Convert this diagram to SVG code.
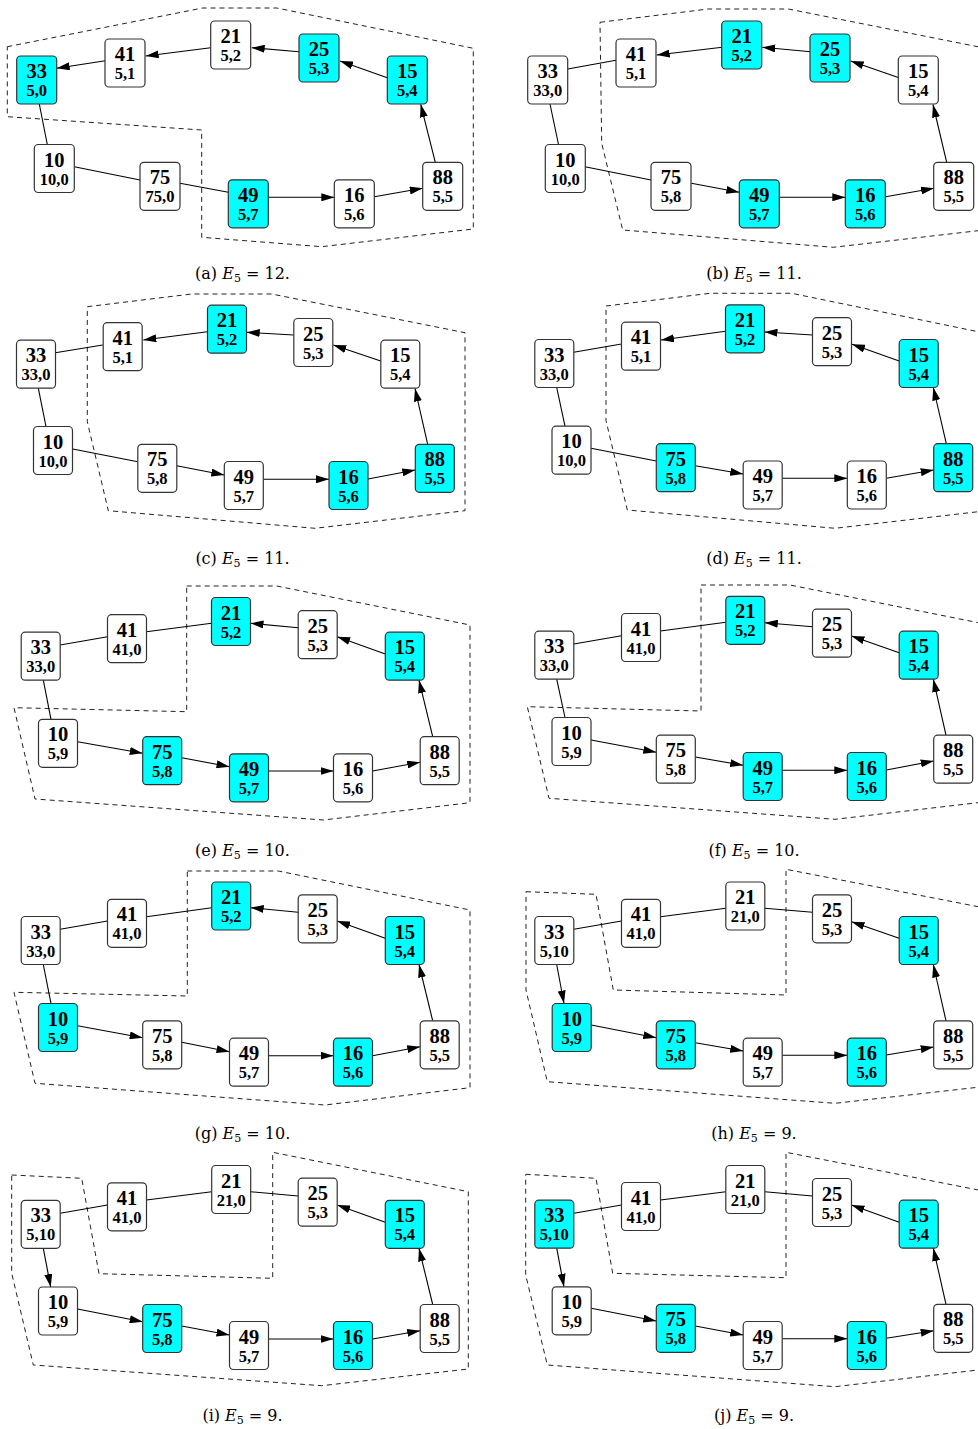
<svg xmlns="http://www.w3.org/2000/svg" width="978" height="1429" viewBox="0 0 978 1429">
<style>
.bg{fill:#fff}
.n use{fill:#fff;stroke:#333;stroke-width:1.2}
.n.c use{fill:#00ffff}
.n text{font-family:"Liberation Serif","Times New Roman",serif;font-weight:bold;text-anchor:middle;fill:#000}
.n .t{font-size:20.5px}
.n .s{font-size:16.5px}
.reg{fill:none;stroke:#222;stroke-width:1;stroke-dasharray:5,4}
.e{stroke:#000;stroke-width:1.1;fill:none}
.e.a{marker-end:url(#ah)}
.cap{font-family:"DejaVu Serif",serif;font-size:16px;text-anchor:middle;fill:#000}
</style>
<defs>
<marker id="ah" viewBox="0 0 13 8" refX="13" refY="4" markerWidth="13" markerHeight="8" markerUnits="userSpaceOnUse" orient="auto"><path d="M0,0 L13,4 L0,8 z" fill="#000"/></marker>
<rect id="bw" x="-20" y="-24" width="40" height="48" rx="4"/>
<rect id="bn" x="-19.5" y="-24" width="39" height="48" rx="4"/>
</defs>
<rect class="bg" width="978" height="1429"/>

<g id="regions">
<polygon class="reg" points="7.3,46.7 202.7,8 276.7,8 473.3,48.3 473.3,229 321.7,246.7 201.7,237.3 201.7,130 7.3,116.7"/>
<polygon class="reg" points="600,22.3 708.3,9 788.3,9 984.3,48 984.3,230 833.3,247.3 622.7,230 601.7,143.3"/>
<polygon class="reg" points="87.3,306.7 191.7,294 271.7,294 465,332.7 465,510.7 315,528.3 108.3,510.7 87.3,421.7"/>
<polygon class="reg" points="606,306 710,293.3 791.7,293.3 983.4,332.8 983.4,511.1 835,528.3 627.3,510 606,420.7"/>
<polygon class="reg" points="186.7,586 276.7,586 470,625 470,802.7 323.3,820 35,799 14,707.7 186.7,711.7"/>
<polygon class="reg" points="701,585 790,585 983.9,623.8 983.9,802 835,819.3 549,798.3 527.3,706.7 701,711"/>
<polygon class="reg" points="187.3,871 278.3,871 470,910 470,1087.7 325,1105 35,1083.3 14,992.3 187.3,996"/>
<polygon class="reg" points="526,891.7 596,894.3 613.3,990 786,995 786,869.3 984,907.8 984,1086.6 835,1103.3 547.3,1081.7 526,990"/>
<polygon class="reg" points="11.7,1175 81.7,1178.3 99,1273.7 272.7,1278.3 272.7,1152.3 468.3,1191.7 468.3,1369 321.7,1385.7 33.3,1365 11.7,1273.3"/>
<polygon class="reg" points="525.7,1174.3 596,1178.3 612.7,1273.3 786,1277.7 786,1152.3 984,1191.1 984,1369.3 835,1386.7 547.3,1365 525.7,1275"/>
</g>

<g id="connectors">
<g id="edges-a">
<line class="e a" x1="105.3" y1="60.7" x2="56.7" y2="68.3"/>
<line class="e a" x1="210.7" y1="47.7" x2="145.7" y2="56"/>
<line class="e a" x1="299" y1="51.7" x2="251.7" y2="47.7"/>
<line class="e a" x1="387.3" y1="77.7" x2="340" y2="61"/>
<line class="e a" x1="435.3" y1="162.3" x2="420.7" y2="104.3"/>
<line class="e a" x1="374.3" y1="196.7" x2="422.7" y2="188.3"/>
<line class="e a" x1="268.3" y1="197.3" x2="334.3" y2="197.3"/>
<line class="e" x1="180" y1="183.3" x2="228.3" y2="192.3"/>
<line class="e" x1="74.3" y1="166.7" x2="140" y2="180"/>
<line class="e" x1="39.3" y1="104" x2="47.3" y2="144.5"/>
</g>
<g id="edges-b">
<line class="e" x1="567.7" y1="69" x2="616" y2="60.3"/>
<line class="e a" x1="722.3" y1="47.3" x2="656.7" y2="55"/>
<line class="e a" x1="810.7" y1="51.7" x2="762.3" y2="47.3"/>
<line class="e a" x1="899" y1="77.7" x2="850.7" y2="61"/>
<line class="e a" x1="946.7" y1="162.3" x2="933" y2="104.5"/>
<line class="e a" x1="885.7" y1="196.7" x2="934" y2="188.3"/>
<line class="e a" x1="779.3" y1="197.3" x2="845.3" y2="197.3"/>
<line class="e a" x1="691.3" y1="183.3" x2="739.3" y2="192.3"/>
<line class="e" x1="585" y1="166.7" x2="651" y2="180"/>
<line class="e" x1="550" y1="104" x2="558.5" y2="144.5"/>
</g>
<g id="edges-c">
<line class="e" x1="55.3" y1="352.7" x2="102.7" y2="345"/>
<line class="e a" x1="207.3" y1="331.7" x2="143.3" y2="340"/>
<line class="e a" x1="293.7" y1="335" x2="246.7" y2="332.3"/>
<line class="e a" x1="380.7" y1="361" x2="333.3" y2="345"/>
<line class="e a" x1="427.7" y1="444.3" x2="415" y2="388.5"/>
<line class="e a" x1="368" y1="479" x2="415.3" y2="470"/>
<line class="e a" x1="263.3" y1="479.3" x2="329" y2="479.3"/>
<line class="e a" x1="176.7" y1="465.7" x2="224.3" y2="475"/>
<line class="e" x1="72.7" y1="449" x2="137.8" y2="461.7"/>
<line class="e" x1="38.3" y1="388.2" x2="46" y2="426.5"/>
</g>
<g id="edges-d">
<line class="e" x1="573.7" y1="352.3" x2="621.5" y2="344"/>
<line class="e a" x1="725.5" y1="331.3" x2="661" y2="340"/>
<line class="e a" x1="812.5" y1="335" x2="764.5" y2="332"/>
<line class="e a" x1="899.2" y1="361" x2="852" y2="344.3"/>
<line class="e a" x1="946.3" y1="443.7" x2="933.3" y2="387.5"/>
<line class="e a" x1="886.3" y1="478.3" x2="933.7" y2="470"/>
<line class="e a" x1="782.2" y1="478.3" x2="847.3" y2="478.3"/>
<line class="e a" x1="695.3" y1="465.7" x2="743.2" y2="474"/>
<line class="e" x1="591" y1="448.3" x2="656.3" y2="461"/>
<line class="e" x1="556.7" y1="387.5" x2="565" y2="426.2"/>
</g>
<g id="edges-e">
<line class="e" x1="60.2" y1="645" x2="107.5" y2="636.7"/>
<line class="e" x1="146.5" y1="631.7" x2="211.5" y2="623.3"/>
<line class="e a" x1="298.2" y1="627.7" x2="250.5" y2="623.3"/>
<line class="e a" x1="385.3" y1="654" x2="337.2" y2="636.7"/>
<line class="e a" x1="432.7" y1="736.7" x2="419" y2="680.2"/>
<line class="e a" x1="372.5" y1="771" x2="420.2" y2="762.3"/>
<line class="e a" x1="268.5" y1="771" x2="333.5" y2="771"/>
<line class="e a" x1="181.7" y1="757.7" x2="229.5" y2="766.7"/>
<line class="e a" x1="77.5" y1="741.7" x2="142.7" y2="753.3"/>
<line class="e" x1="43.3" y1="680.2" x2="51" y2="719.3"/>
</g>
<g id="edges-f">
<line class="e" x1="573.8" y1="644" x2="621.5" y2="635.7"/>
<line class="e" x1="660.5" y1="631" x2="725.8" y2="622.3"/>
<line class="e a" x1="812.5" y1="626.7" x2="764.8" y2="622.7"/>
<line class="e a" x1="899.2" y1="652.7" x2="851.5" y2="636"/>
<line class="e a" x1="946" y1="735.2" x2="933.3" y2="679.2"/>
<line class="e a" x1="886.3" y1="770" x2="933.7" y2="761"/>
<line class="e a" x1="782.2" y1="770.3" x2="847.3" y2="770.3"/>
<line class="e a" x1="695.3" y1="757" x2="743.2" y2="765.3"/>
<line class="e a" x1="591" y1="740" x2="656.3" y2="752.3"/>
<line class="e" x1="556.7" y1="679.2" x2="565" y2="717.5"/>
</g>
<g id="edges-g">
<line class="e" x1="60.2" y1="929.3" x2="107.5" y2="921"/>
<line class="e" x1="146.5" y1="916.7" x2="211.7" y2="907.7"/>
<line class="e a" x1="298.2" y1="912.3" x2="250.7" y2="907.7"/>
<line class="e a" x1="385.3" y1="938.3" x2="337.2" y2="921"/>
<line class="e a" x1="432.7" y1="1020.8" x2="419" y2="964.5"/>
<line class="e a" x1="372.5" y1="1055.7" x2="420.2" y2="1046.7"/>
<line class="e a" x1="268.5" y1="1055.7" x2="333.5" y2="1055.7"/>
<line class="e a" x1="181.7" y1="1042.3" x2="229.5" y2="1051.7"/>
<line class="e a" x1="77.5" y1="1025.7" x2="142.7" y2="1037.7"/>
<line class="e" x1="43.3" y1="964.5" x2="51" y2="1003.5"/>
</g>
<g id="edges-h">
<line class="e" x1="573.8" y1="929.3" x2="621.5" y2="921"/>
<line class="e" x1="660.5" y1="916.7" x2="725.8" y2="908.3"/>
<line class="e" x1="764.8" y1="908.3" x2="812.5" y2="912.3"/>
<line class="e a" x1="899.2" y1="938.3" x2="851.5" y2="921.7"/>
<line class="e a" x1="946" y1="1020.8" x2="933.3" y2="964.5"/>
<line class="e a" x1="886.3" y1="1055" x2="933.7" y2="1047"/>
<line class="e a" x1="782.2" y1="1055.3" x2="847.3" y2="1055.3"/>
<line class="e a" x1="695.3" y1="1042.7" x2="743.2" y2="1051"/>
<line class="e a" x1="591.2" y1="1025" x2="656.3" y2="1037.7"/>
<line class="e a" x1="556.7" y1="964.5" x2="564" y2="1003.5"/>
</g>
<g id="edges-i">
<line class="e" x1="60.2" y1="1213.3" x2="107.5" y2="1205"/>
<line class="e" x1="146.5" y1="1200" x2="211.7" y2="1191.7"/>
<line class="e" x1="250.7" y1="1191.7" x2="298.2" y2="1196"/>
<line class="e a" x1="385.3" y1="1222.3" x2="337.2" y2="1205"/>
<line class="e a" x1="432.7" y1="1304.5" x2="419" y2="1248.3"/>
<line class="e a" x1="372.5" y1="1339" x2="420.2" y2="1330.7"/>
<line class="e a" x1="268.5" y1="1339" x2="333.5" y2="1339"/>
<line class="e a" x1="181.7" y1="1326" x2="229.5" y2="1335"/>
<line class="e a" x1="77.5" y1="1309" x2="142.7" y2="1321.7"/>
<line class="e a" x1="43.3" y1="1248.3" x2="50.7" y2="1287"/>
</g>
<g id="edges-j">
<line class="e" x1="573.8" y1="1213.3" x2="621.5" y2="1205"/>
<line class="e" x1="660.5" y1="1200" x2="725.8" y2="1191.7"/>
<line class="e" x1="764.8" y1="1191.7" x2="812.5" y2="1196"/>
<line class="e a" x1="899.2" y1="1222.3" x2="851.5" y2="1205"/>
<line class="e a" x1="946" y1="1304.3" x2="933.3" y2="1248.2"/>
<line class="e a" x1="886.3" y1="1338.3" x2="933.7" y2="1330.7"/>
<line class="e a" x1="782.2" y1="1338.7" x2="847.3" y2="1338.7"/>
<line class="e a" x1="695.3" y1="1326" x2="743.2" y2="1335"/>
<line class="e a" x1="591.2" y1="1308.3" x2="656.3" y2="1321"/>
<line class="e a" x1="556.7" y1="1248.2" x2="564" y2="1286.8"/>
</g>
</g>

<g id="panel-a">
<g id="a33" class="n c" transform="translate(36.7,80)"><use href="#bw"/><text class="t" y="-2">33</text><text class="s" y="16">5,0</text></g>
<g id="a41" class="n" transform="translate(125,63)"><use href="#bw"/><text class="t" y="-2">41</text><text class="s" y="16">5,1</text></g>
<g id="a21" class="n" transform="translate(230.7,45)"><use href="#bw"/><text class="t" y="-2">21</text><text class="s" y="16">5,2</text></g>
<g id="a25" class="n c" transform="translate(319,58)"><use href="#bw"/><text class="t" y="-2">25</text><text class="s" y="16">5,3</text></g>
<g id="a15" class="n c" transform="translate(407.3,80)"><use href="#bw"/><text class="t" y="-2">15</text><text class="s" y="16">5,4</text></g>
<g id="a10" class="n" transform="translate(54.3,168.5)"><use href="#bw"/><text class="t" y="-2">10</text><text class="s" y="16">10,0</text></g>
<g id="a75" class="n" transform="translate(160,186.3)"><use href="#bw"/><text class="t" y="-2">75</text><text class="s" y="16">75,0</text></g>
<g id="a49" class="n c" transform="translate(248.3,203.8)"><use href="#bw"/><text class="t" y="-2">49</text><text class="s" y="16">5,7</text></g>
<g id="a16" class="n" transform="translate(354.3,203.8)"><use href="#bw"/><text class="t" y="-2">16</text><text class="s" y="16">5,6</text></g>
<g id="a88" class="n" transform="translate(442.7,186.3)"><use href="#bw"/><text class="t" y="-2">88</text><text class="s" y="16">5,5</text></g>
<text class="cap" x="242.5" y="279">(a) <tspan font-style="italic">E</tspan><tspan font-size="11" dy="3">5</tspan><tspan dy="-3"> = 12.</tspan></text>
</g>

<g id="panel-b">
<g id="b33" class="n" transform="translate(547.7,80)"><use href="#bw"/><text class="t" y="-2">33</text><text class="s" y="16">33,0</text></g>
<g id="b41" class="n" transform="translate(636,63)"><use href="#bw"/><text class="t" y="-2">41</text><text class="s" y="16">5,1</text></g>
<g id="b21" class="n c" transform="translate(741.7,45)"><use href="#bw"/><text class="t" y="-2">21</text><text class="s" y="16">5,2</text></g>
<g id="b25" class="n c" transform="translate(830,58)"><use href="#bw"/><text class="t" y="-2">25</text><text class="s" y="16">5,3</text></g>
<g id="b15" class="n" transform="translate(918.3,80)"><use href="#bw"/><text class="t" y="-2">15</text><text class="s" y="16">5,4</text></g>
<g id="b10" class="n" transform="translate(565.3,168.5)"><use href="#bw"/><text class="t" y="-2">10</text><text class="s" y="16">10,0</text></g>
<g id="b75" class="n" transform="translate(671,186.3)"><use href="#bw"/><text class="t" y="-2">75</text><text class="s" y="16">5,8</text></g>
<g id="b49" class="n c" transform="translate(759.3,203.8)"><use href="#bw"/><text class="t" y="-2">49</text><text class="s" y="16">5,7</text></g>
<g id="b16" class="n c" transform="translate(865.3,203.8)"><use href="#bw"/><text class="t" y="-2">16</text><text class="s" y="16">5,6</text></g>
<g id="b88" class="n" transform="translate(953.7,186.3)"><use href="#bw"/><text class="t" y="-2">88</text><text class="s" y="16">5,5</text></g>
<text class="cap" x="754" y="279">(b) <tspan font-style="italic">E</tspan><tspan font-size="11" dy="3">5</tspan><tspan dy="-3"> = 11.</tspan></text>
</g>

<g id="panel-c">
<g id="c33" class="n" transform="translate(36,364.2)"><use href="#bn"/><text class="t" y="-2">33</text><text class="s" y="16">33,0</text></g>
<g id="c41" class="n" transform="translate(122.7,346.7)"><use href="#bn"/><text class="t" y="-2">41</text><text class="s" y="16">5,1</text></g>
<g id="c21" class="n c" transform="translate(227,329.2)"><use href="#bn"/><text class="t" y="-2">21</text><text class="s" y="16">5,2</text></g>
<g id="c25" class="n" transform="translate(313.3,342.5)"><use href="#bn"/><text class="t" y="-2">25</text><text class="s" y="16">5,3</text></g>
<g id="c15" class="n" transform="translate(400.3,364.2)"><use href="#bn"/><text class="t" y="-2">15</text><text class="s" y="16">5,4</text></g>
<g id="c10" class="n" transform="translate(53,450.5)"><use href="#bn"/><text class="t" y="-2">10</text><text class="s" y="16">10,0</text></g>
<g id="c75" class="n" transform="translate(157.3,468.3)"><use href="#bn"/><text class="t" y="-2">75</text><text class="s" y="16">5,8</text></g>
<g id="c49" class="n" transform="translate(243.8,485.5)"><use href="#bn"/><text class="t" y="-2">49</text><text class="s" y="16">5,7</text></g>
<g id="c16" class="n c" transform="translate(348.5,485.5)"><use href="#bn"/><text class="t" y="-2">16</text><text class="s" y="16">5,6</text></g>
<g id="c88" class="n c" transform="translate(434.8,468.3)"><use href="#bn"/><text class="t" y="-2">88</text><text class="s" y="16">5,5</text></g>
<text class="cap" x="242.5" y="564">(c) <tspan font-style="italic">E</tspan><tspan font-size="11" dy="3">5</tspan><tspan dy="-3"> = 11.</tspan></text>
</g>

<g id="panel-d">
<g id="d33" class="n" transform="translate(554.3,363.5)"><use href="#bn"/><text class="t" y="-2">33</text><text class="s" y="16">33,0</text></g>
<g id="d41" class="n" transform="translate(641,346.2)"><use href="#bn"/><text class="t" y="-2">41</text><text class="s" y="16">5,1</text></g>
<g id="d21" class="n c" transform="translate(745,328.8)"><use href="#bn"/><text class="t" y="-2">21</text><text class="s" y="16">5,2</text></g>
<g id="d25" class="n" transform="translate(832,341.7)"><use href="#bn"/><text class="t" y="-2">25</text><text class="s" y="16">5,3</text></g>
<g id="d15" class="n c" transform="translate(918.7,363.5)"><use href="#bn"/><text class="t" y="-2">15</text><text class="s" y="16">5,4</text></g>
<g id="d10" class="n" transform="translate(571.5,450.2)"><use href="#bn"/><text class="t" y="-2">10</text><text class="s" y="16">10,0</text></g>
<g id="d75" class="n c" transform="translate(675.8,467.7)"><use href="#bn"/><text class="t" y="-2">75</text><text class="s" y="16">5,8</text></g>
<g id="d49" class="n" transform="translate(762.7,485)"><use href="#bn"/><text class="t" y="-2">49</text><text class="s" y="16">5,7</text></g>
<g id="d16" class="n" transform="translate(866.8,485)"><use href="#bn"/><text class="t" y="-2">16</text><text class="s" y="16">5,6</text></g>
<g id="d88" class="n c" transform="translate(953.2,467.7)"><use href="#bn"/><text class="t" y="-2">88</text><text class="s" y="16">5,5</text></g>
<text class="cap" x="754" y="564">(d) <tspan font-style="italic">E</tspan><tspan font-size="11" dy="3">5</tspan><tspan dy="-3"> = 11.</tspan></text>
</g>

<g id="panel-e">
<g id="e33" class="n" transform="translate(40.7,656.2)"><use href="#bn"/><text class="t" y="-2">33</text><text class="s" y="16">33,0</text></g>
<g id="e41" class="n" transform="translate(127,638.7)"><use href="#bn"/><text class="t" y="-2">41</text><text class="s" y="16">41,0</text></g>
<g id="e21" class="n c" transform="translate(231,621.5)"><use href="#bn"/><text class="t" y="-2">21</text><text class="s" y="16">5,2</text></g>
<g id="e25" class="n" transform="translate(317.7,634.7)"><use href="#bn"/><text class="t" y="-2">25</text><text class="s" y="16">5,3</text></g>
<g id="e15" class="n c" transform="translate(404.8,656.2)"><use href="#bn"/><text class="t" y="-2">15</text><text class="s" y="16">5,4</text></g>
<g id="e10" class="n" transform="translate(58,743.3)"><use href="#bn"/><text class="t" y="-2">10</text><text class="s" y="16">5,9</text></g>
<g id="e75" class="n c" transform="translate(162.2,760.7)"><use href="#bn"/><text class="t" y="-2">75</text><text class="s" y="16">5,8</text></g>
<g id="e49" class="n c" transform="translate(249,777.8)"><use href="#bn"/><text class="t" y="-2">49</text><text class="s" y="16">5,7</text></g>
<g id="e16" class="n" transform="translate(353,777.8)"><use href="#bn"/><text class="t" y="-2">16</text><text class="s" y="16">5,6</text></g>
<g id="e88" class="n" transform="translate(439.7,760.7)"><use href="#bn"/><text class="t" y="-2">88</text><text class="s" y="16">5,5</text></g>
<text class="cap" x="242.5" y="856">(e) <tspan font-style="italic">E</tspan><tspan font-size="11" dy="3">5</tspan><tspan dy="-3"> = 10.</tspan></text>
</g>

<g id="panel-f">
<g id="f33" class="n" transform="translate(554.3,655.2)"><use href="#bn"/><text class="t" y="-2">33</text><text class="s" y="16">33,0</text></g>
<g id="f41" class="n" transform="translate(641,637.5)"><use href="#bn"/><text class="t" y="-2">41</text><text class="s" y="16">41,0</text></g>
<g id="f21" class="n c" transform="translate(745.3,620.3)"><use href="#bn"/><text class="t" y="-2">21</text><text class="s" y="16">5,2</text></g>
<g id="f25" class="n" transform="translate(832,633.2)"><use href="#bn"/><text class="t" y="-2">25</text><text class="s" y="16">5,3</text></g>
<g id="f15" class="n c" transform="translate(918.7,655.2)"><use href="#bn"/><text class="t" y="-2">15</text><text class="s" y="16">5,4</text></g>
<g id="f10" class="n" transform="translate(571.5,741.5)"><use href="#bn"/><text class="t" y="-2">10</text><text class="s" y="16">5,9</text></g>
<g id="f75" class="n" transform="translate(675.8,759.2)"><use href="#bn"/><text class="t" y="-2">75</text><text class="s" y="16">5,8</text></g>
<g id="f49" class="n c" transform="translate(762.7,776.5)"><use href="#bn"/><text class="t" y="-2">49</text><text class="s" y="16">5,7</text></g>
<g id="f16" class="n c" transform="translate(866.8,776.5)"><use href="#bn"/><text class="t" y="-2">16</text><text class="s" y="16">5,6</text></g>
<g id="f88" class="n" transform="translate(953.2,759.2)"><use href="#bn"/><text class="t" y="-2">88</text><text class="s" y="16">5,5</text></g>
<text class="cap" x="754" y="856">(f) <tspan font-style="italic">E</tspan><tspan font-size="11" dy="3">5</tspan><tspan dy="-3"> = 10.</tspan></text>
</g>

<g id="panel-g">
<g id="g33" class="n" transform="translate(40.7,940.5)"><use href="#bn"/><text class="t" y="-2">33</text><text class="s" y="16">33,0</text></g>
<g id="g41" class="n" transform="translate(127,923.3)"><use href="#bn"/><text class="t" y="-2">41</text><text class="s" y="16">41,0</text></g>
<g id="g21" class="n c" transform="translate(231.2,906)"><use href="#bn"/><text class="t" y="-2">21</text><text class="s" y="16">5,2</text></g>
<g id="g25" class="n" transform="translate(317.7,918.8)"><use href="#bn"/><text class="t" y="-2">25</text><text class="s" y="16">5,3</text></g>
<g id="g15" class="n c" transform="translate(404.8,940.5)"><use href="#bn"/><text class="t" y="-2">15</text><text class="s" y="16">5,4</text></g>
<g id="g10" class="n c" transform="translate(58,1027.5)"><use href="#bn"/><text class="t" y="-2">10</text><text class="s" y="16">5,9</text></g>
<g id="g75" class="n" transform="translate(162.2,1044.8)"><use href="#bn"/><text class="t" y="-2">75</text><text class="s" y="16">5,8</text></g>
<g id="g49" class="n" transform="translate(249,1062.2)"><use href="#bn"/><text class="t" y="-2">49</text><text class="s" y="16">5,7</text></g>
<g id="g16" class="n c" transform="translate(353,1062.2)"><use href="#bn"/><text class="t" y="-2">16</text><text class="s" y="16">5,6</text></g>
<g id="g88" class="n" transform="translate(439.7,1044.8)"><use href="#bn"/><text class="t" y="-2">88</text><text class="s" y="16">5,5</text></g>
<text class="cap" x="242.5" y="1139">(g) <tspan font-style="italic">E</tspan><tspan font-size="11" dy="3">5</tspan><tspan dy="-3"> = 10.</tspan></text>
</g>

<g id="panel-h">
<g id="h33" class="n" transform="translate(554.3,940.5)"><use href="#bn"/><text class="t" y="-2">33</text><text class="s" y="16">5,10</text></g>
<g id="h41" class="n" transform="translate(641,923.3)"><use href="#bn"/><text class="t" y="-2">41</text><text class="s" y="16">41,0</text></g>
<g id="h21" class="n" transform="translate(745.3,906)"><use href="#bn"/><text class="t" y="-2">21</text><text class="s" y="16">21,0</text></g>
<g id="h25" class="n" transform="translate(832,918.8)"><use href="#bn"/><text class="t" y="-2">25</text><text class="s" y="16">5,3</text></g>
<g id="h15" class="n c" transform="translate(918.7,940.5)"><use href="#bn"/><text class="t" y="-2">15</text><text class="s" y="16">5,4</text></g>
<g id="h10" class="n c" transform="translate(571.7,1027.5)"><use href="#bn"/><text class="t" y="-2">10</text><text class="s" y="16">5,9</text></g>
<g id="h75" class="n c" transform="translate(675.8,1044.8)"><use href="#bn"/><text class="t" y="-2">75</text><text class="s" y="16">5,8</text></g>
<g id="h49" class="n" transform="translate(762.7,1062.2)"><use href="#bn"/><text class="t" y="-2">49</text><text class="s" y="16">5,7</text></g>
<g id="h16" class="n c" transform="translate(866.8,1062.2)"><use href="#bn"/><text class="t" y="-2">16</text><text class="s" y="16">5,6</text></g>
<g id="h88" class="n" transform="translate(953.2,1044.8)"><use href="#bn"/><text class="t" y="-2">88</text><text class="s" y="16">5,5</text></g>
<text class="cap" x="754" y="1139">(h) <tspan font-style="italic">E</tspan><tspan font-size="11" dy="3">5</tspan><tspan dy="-3"> = 9.</tspan></text>
</g>

<g id="panel-i">
<g id="i33" class="n" transform="translate(40.7,1224.3)"><use href="#bn"/><text class="t" y="-2">33</text><text class="s" y="16">5,10</text></g>
<g id="i41" class="n" transform="translate(127,1206.8)"><use href="#bn"/><text class="t" y="-2">41</text><text class="s" y="16">41,0</text></g>
<g id="i21" class="n" transform="translate(231.2,1189.5)"><use href="#bn"/><text class="t" y="-2">21</text><text class="s" y="16">21,0</text></g>
<g id="i25" class="n" transform="translate(317.7,1202.2)"><use href="#bn"/><text class="t" y="-2">25</text><text class="s" y="16">5,3</text></g>
<g id="i15" class="n c" transform="translate(404.8,1224.3)"><use href="#bn"/><text class="t" y="-2">15</text><text class="s" y="16">5,4</text></g>
<g id="i10" class="n" transform="translate(58,1311)"><use href="#bn"/><text class="t" y="-2">10</text><text class="s" y="16">5,9</text></g>
<g id="i75" class="n c" transform="translate(162.2,1328.5)"><use href="#bn"/><text class="t" y="-2">75</text><text class="s" y="16">5,8</text></g>
<g id="i49" class="n" transform="translate(249,1345.5)"><use href="#bn"/><text class="t" y="-2">49</text><text class="s" y="16">5,7</text></g>
<g id="i16" class="n c" transform="translate(353,1345.5)"><use href="#bn"/><text class="t" y="-2">16</text><text class="s" y="16">5,6</text></g>
<g id="i88" class="n" transform="translate(439.7,1328.5)"><use href="#bn"/><text class="t" y="-2">88</text><text class="s" y="16">5,5</text></g>
<text class="cap" x="242.5" y="1421">(i) <tspan font-style="italic">E</tspan><tspan font-size="11" dy="3">5</tspan><tspan dy="-3"> = 9.</tspan></text>
</g>

<g id="panel-j">
<g id="j33" class="n c" transform="translate(554.3,1224.2)"><use href="#bn"/><text class="t" y="-2">33</text><text class="s" y="16">5,10</text></g>
<g id="j41" class="n" transform="translate(641,1206.5)"><use href="#bn"/><text class="t" y="-2">41</text><text class="s" y="16">41,0</text></g>
<g id="j21" class="n" transform="translate(745.3,1189.5)"><use href="#bn"/><text class="t" y="-2">21</text><text class="s" y="16">21,0</text></g>
<g id="j25" class="n" transform="translate(832,1202.5)"><use href="#bn"/><text class="t" y="-2">25</text><text class="s" y="16">5,3</text></g>
<g id="j15" class="n c" transform="translate(918.7,1224.2)"><use href="#bn"/><text class="t" y="-2">15</text><text class="s" y="16">5,4</text></g>
<g id="j10" class="n" transform="translate(571.7,1310.8)"><use href="#bn"/><text class="t" y="-2">10</text><text class="s" y="16">5,9</text></g>
<g id="j75" class="n c" transform="translate(675.8,1328.3)"><use href="#bn"/><text class="t" y="-2">75</text><text class="s" y="16">5,8</text></g>
<g id="j49" class="n" transform="translate(762.7,1345.5)"><use href="#bn"/><text class="t" y="-2">49</text><text class="s" y="16">5,7</text></g>
<g id="j16" class="n c" transform="translate(866.8,1345.5)"><use href="#bn"/><text class="t" y="-2">16</text><text class="s" y="16">5,6</text></g>
<g id="j88" class="n" transform="translate(953.2,1328.3)"><use href="#bn"/><text class="t" y="-2">88</text><text class="s" y="16">5,5</text></g>
<text class="cap" x="754" y="1421">(j) <tspan font-style="italic">E</tspan><tspan font-size="11" dy="3">5</tspan><tspan dy="-3"> = 9.</tspan></text>
</g>
</svg>
